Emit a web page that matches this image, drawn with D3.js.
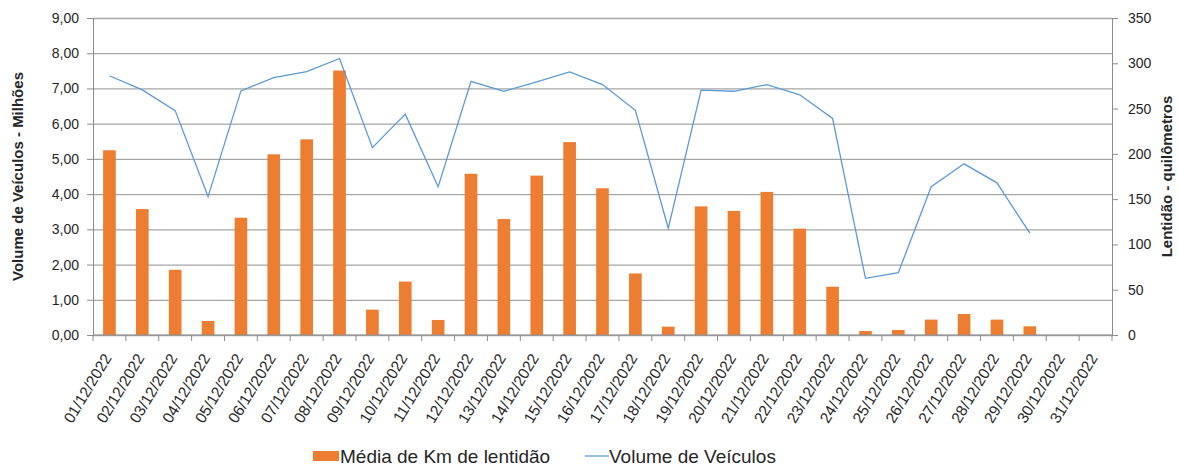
<!DOCTYPE html>
<html>
<head>
<meta charset="utf-8">
<script src="https://cdn.jsdelivr.net/npm/d3@7"></script>
<style>
  body { margin: 0; background: #fff; }
  text { font-family: "Liberation Sans", Arial, sans-serif; fill: #262626; }
  .grid line { stroke: #a6a6a6; stroke-width: 1.3; }
  .grid .domain { display: none; }
</style>
</head>
<body>
<div id="chart"></div>
<script>
const days = d3.range(1, 32).map(d => String(d).padStart(2, '0') + '/12/2022')

// Média de Km de lentidão (right axis, km)
const lentidao = [204, 139, 72, 15.5, 129.5, 199.5, 216, 292, 28, 59, 16.6,
  178, 128, 176, 213, 162, 68, 9.2, 142, 137, 158, 117.4, 53.3,
  4.4, 5.5, 17, 23.2, 17, 9.6, null, null]

// Volume de Veículos (left axis, milhões)
const volume = [7.36, 6.96, 6.37, 3.93, 6.93, 7.31, 7.48, 7.85, 5.32, 6.27, 4.21,
  7.20, 6.92, 7.19, 7.47, 7.11, 6.38, 3.03, 6.95, 6.92, 7.11, 6.82, 6.15,
  1.61, 1.77, 4.21, 4.86, 4.32, 2.89, null, null]

const leftTicks = d3.range(0, 10, 1)
const rightTicks = d3.range(0, 400, 50)

const margin = { top: 18, right: 67, bottom: 130, left: 93 }
const W = 1179, H = 465
const width = W - margin.left - margin.right
const height = H - margin.top - margin.bottom

const root = d3.select('#chart').append('svg')
  .attr('width', W)
  .attr('height', H)
const svg = root.append('g')
  .attr('transform', `translate(${margin.left},${margin.top})`)

const x = d3.scaleBand().domain(days).range([0, width]).padding(0)
const yL = d3.scaleLinear().domain([0, 9]).range([height, 0])
const yR = d3.scaleLinear().domain([0, 350]).range([height, 0])

// gridlines
svg.append('g').attr('class', 'grid')
  .call(d3.axisLeft(yL).tickValues(leftTicks).tickSize(-width).tickFormat(''))

// bars
const barW = x.bandwidth() * 0.385
svg.selectAll('rect.bar')
  .data(days.map((d, i) => ({ d, v: lentidao[i] })).filter(o => o.v != null))
  .enter().append('rect')
  .attr('class', 'bar')
  .attr('x', o => x(o.d) + (x.bandwidth() - barW) / 2)
  .attr('width', barW)
  .attr('y', o => yR(o.v))
  .attr('height', o => height - yR(o.v))
  .attr('fill', '#ed7d31')

// line
const line = d3.line()
  .defined(o => o.v != null)
  .x(o => x(o.d) + x.bandwidth() / 2)
  .y(o => yL(o.v))
svg.append('path')
  .datum(days.map((d, i) => ({ d, v: volume[i] })))
  .attr('d', line)
  .attr('fill', 'none')
  .attr('stroke', '#5b9bd5')
  .attr('stroke-width', 1.3)

// left axis
const fmt = v => v.toFixed(2).replace('.', ',')
const gL = svg.append('g')
  .call(d3.axisLeft(yL).tickValues(leftTicks).tickFormat(fmt).tickSize(6).tickPadding(8))
gL.selectAll('line, .domain').attr('stroke', '#8c8c8c')
gL.selectAll('text').style('font-size', '14px').style('fill', '#262626')

// right axis
const gR = svg.append('g')
  .attr('transform', `translate(${width},0)`)
  .call(d3.axisRight(yR).tickValues(rightTicks).tickSize(6).tickPadding(10))
gR.selectAll('line, .domain').attr('stroke', '#8c8c8c')
gR.selectAll('text').style('font-size', '14px').style('fill', '#262626')

// x axis
const gX = svg.append('g').attr('transform', `translate(0,${height})`)
gX.append('line').attr('x1', 0).attr('x2', width)
  .attr('stroke', '#8c8c8c')
gX.selectAll('line.tk')
  .data(days.map(d => x(d)).concat([width]))
  .enter().append('line')
  .attr('class', 'tk')
  .attr('x1', d => d).attr('x2', d => d)
  .attr('y1', 0).attr('y2', 6)
  .attr('stroke', '#8c8c8c')
gX.selectAll('text')
  .data(days)
  .enter().append('text')
  .attr('transform', d => `translate(${x(d) + x.bandwidth() / 2 - 2},20) rotate(-59)`)
  .attr('text-anchor', 'end')
  .attr('dy', '0.35em')
  .style('font-size', '15.5px')
  .text(d => d)

// axis titles
root.append('text')
  .attr('transform', `translate(23,${margin.top + height / 2}) rotate(-90)`)
  .attr('text-anchor', 'middle')
  .style('font-size', '15px')
  .style('font-weight', 'bold')
  .text('Volume de Veículos - Milhões')

root.append('text')
  .attr('transform', `translate(1172,${margin.top + height / 2}) rotate(-90)`)
  .attr('text-anchor', 'middle')
  .style('font-size', '15px')
  .style('font-weight', 'bold')
  .text('Lentidão - quilômetros')

// legend
const leg = root.append('g').attr('transform', 'translate(313,456)')
leg.append('rect').attr('x', 0).attr('y', -5).attr('width', 26).attr('height', 10)
  .attr('fill', '#ed7d31')
leg.append('text').attr('x', 27).attr('y', 6.5).style('font-size', '19px')
  .text('Média de Km de lentidão')
leg.append('line').attr('x1', 272).attr('x2', 296).attr('y1', 0).attr('y2', 0)
  .attr('stroke', '#5b9bd5').attr('stroke-width', 1.3)
leg.append('text').attr('x', 296).attr('y', 6.5).style('font-size', '19px')
  .text('Volume de Veículos')
</script>
</body>
</html>
